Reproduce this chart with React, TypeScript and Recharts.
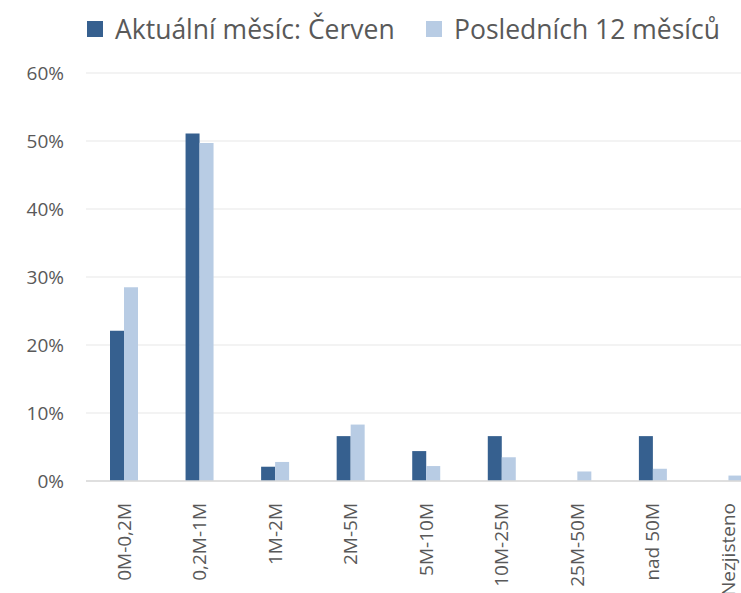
import React from "react";
import { BarChart, Bar, XAxis, YAxis, CartesianGrid, Legend } from "recharts";

const categories = ["0M-0,2M", "0,2M-1M", "1M-2M", "2M-5M", "5M-10M", "10M-25M", "25M-50M", "nad 50M", "Nezjisteno"];
const currentMonth = [0.221, 0.511, 0.021, 0.066, 0.044, 0.066, 0, 0.066, 0];
const last12Months = [0.285, 0.497, 0.028, 0.083, 0.022, 0.035, 0.014, 0.018, 0.008];
const yTicks = [0, 0.1, 0.2, 0.3, 0.4, 0.5, 0.6];
const seriesNames = ["Aktuální měsíc: Červen", "Posledních 12 měsíců"];
const colors = ["#36608F", "#B8CCE4"];

const data = categories.map((c, i) => ({ name: c, cur: currentMonth[i], last: last12Months[i] }));

const FONT = "'Open Sans', sans-serif";
const TEXT = "#595959";

const XTick = (props: any) => {
  const { x, y, payload } = props;
  return (
    <text
      x={x}
      y={y}
      transform={`rotate(-90, ${x}, ${y})`}
      textAnchor="end"
      dy="0.36em"
      fill={TEXT}
      fontSize={19}
      fontFamily={FONT}
    >
      {payload.value}
    </text>
  );
};

const legendLefts = [87, 426];

const LegendContent = () => (
  <div style={{ position: "relative", width: 741, height: 40 }}>
    {seriesNames.map((n, i) => (
      <div
        key={n}
        style={{
          position: "absolute",
          left: legendLefts[i],
          top: 0,
          display: "flex",
          alignItems: "center",
          whiteSpace: "nowrap",
        }}
      >
        <div style={{ width: 16, height: 16, background: colors[i], marginRight: 12 }} />
        <span style={{ fontFamily: FONT, fontSize: 26.5, color: TEXT, lineHeight: "36px" }}>{n}</span>
      </div>
    ))}
  </div>
);

export default function App() {
  return (
    <div style={{ position: "absolute", left: 0, top: 0, width: 741, height: 593, overflow: "hidden", background: "#fff" }}>
      <BarChart
        width={766}
        height={593}
        data={data}
        margin={{ top: 33, right: 0, bottom: 0, left: 0 }}
        barGap={0}
        barSize={14}
      >
        <CartesianGrid vertical={false} stroke="#EFEFEF" strokeWidth={1.5} />
        <XAxis
          dataKey="name"
          interval={0}
          height={112}
          tickLine={false}
          axisLine={{ stroke: "#D9D9D9", strokeWidth: 1.5 }}
          tick={<XTick />}
          tickMargin={16}
        />
        <YAxis
          width={86}
          domain={[0, 0.6]}
          ticks={yTicks}
          tickFormatter={(v: number) => `${Math.round(v * 100)}%`}
          axisLine={false}
          tickLine={false}
          tickSize={0}
          tickMargin={22}
          tick={{ fill: TEXT, fontSize: 19, fontFamily: FONT }}
        />
        <Legend
          verticalAlign="top"
          height={40}
          content={<LegendContent />}
          wrapperStyle={{ position: "absolute", left: 0, top: 11, width: 741, height: 40 }}
        />
        <Bar dataKey="cur" name={seriesNames[0]} fill={colors[0]} isAnimationActive={false} />
        <Bar dataKey="last" name={seriesNames[1]} fill={colors[1]} isAnimationActive={false} />
      </BarChart>
    </div>
  );
}
